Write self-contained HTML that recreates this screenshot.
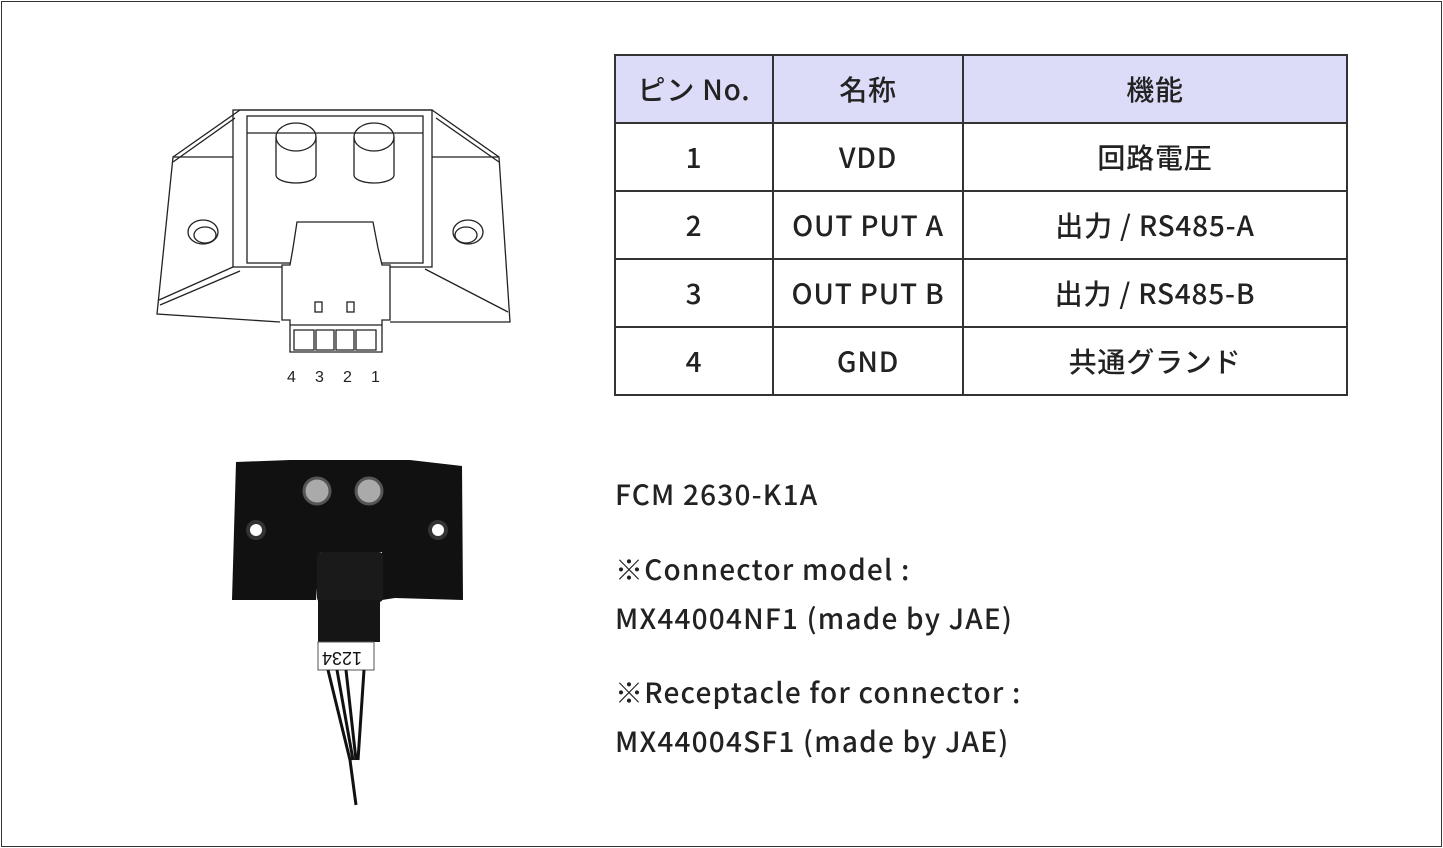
<!DOCTYPE html>
<html><head><meta charset="utf-8"><style>
body{margin:0;width:1443px;height:848px;background:#fff;font-family:"Liberation Sans","Noto Sans CJK JP",sans-serif;position:relative;overflow:hidden}
.frame{position:absolute;left:1px;top:1px;width:1439px;height:844px;border:1px solid #333}
table{position:absolute;left:614px;top:54px;border-collapse:collapse;font-family:"Noto Sans CJK JP",sans-serif;font-size:28px;font-weight:500;letter-spacing:0.8px;color:#222}
td{border:2px solid #333;text-align:center;height:66px;padding:0}
tr:first-child td{background:#dcdcf8}
.t{position:absolute;left:615px;font-family:"Noto Sans CJK JP",sans-serif;font-size:28px;font-weight:500;letter-spacing:1.2px;color:#222;white-space:nowrap}
</style></head><body>
<div class="frame"></div>
<svg width="1443" height="848" style="position:absolute;left:0;top:0" fill="none" stroke="#222" stroke-width="1.3">
<path d="M173,157 L240,110 L432,110 L499,157 L510,322 L390,322 M280,322 L157,314 L173,157 L233,157"/>
<path d="M173,162 L235,118 M499,162 L436,118 M432,157 L499,157 M159,300 L233,267 M508,312 L425,269 M160,305 L240,271"/>
<rect x="233" y="110" width="199" height="157"/>
<rect x="247" y="116" width="176" height="147"/>
<path d="M247,133 L423,133"/>
<path d="M276,137 v38 a20,8 0 0 0 40,0 v-38"/><ellipse cx="296" cy="137" rx="20" ry="14"/>
<path d="M354,137 v38 a20,8 0 0 0 40,0 v-38"/><ellipse cx="374" cy="137" rx="20" ry="14"/>
<ellipse cx="203" cy="232" rx="15" ry="12"/><ellipse cx="205" cy="235" rx="11" ry="8"/>
<ellipse cx="468" cy="232" rx="15" ry="12"/><ellipse cx="466" cy="235" rx="11" ry="8"/>
<path d="M297,222 L373,222 L378,248 L382,265 L390,265 L390,320 L382,320 L382,352 L290,352 L290,320 L282,320 L282,265 L290,265 L293,248 Z" fill="#fff"/>
<path d="M290,325 L382,325"/>
<rect x="315" y="302" width="7" height="10"/><rect x="347" y="302" width="7" height="10"/>
<path d="M294,330 h20 v20 h-20z M316,330 h18 v20 h-18z M336,330 h18 v20 h-18z M356,330 h20 v20 h-20z"/>
<g fill="#222" stroke="none" font-size="16" font-family="Liberation Sans"><text x="287" y="382">4</text><text x="315" y="382">3</text><text x="343" y="382">2</text><text x="371" y="382">1</text></g>
<path d="M236,462 L290,460 L410,460 L462,466 L463,600 L395,598 L382,600 L382,552 L320,552 L316,600 L232,600 Z" fill="#111" stroke="none"/>
<rect x="317" y="552" width="66" height="50" rx="4" fill="#1a1a1a" stroke="none"/>
<rect x="318" y="600" width="62" height="42" fill="#151515" stroke="none"/>
<rect x="318" y="642" width="56" height="28" fill="#fff" stroke="#555" stroke-width="1"/>
<text x="330" y="664" font-size="18" fill="#111" stroke="none" transform="rotate(180 346 658)">1234</text>
<circle cx="317" cy="491" r="13" fill="#aaa" stroke="#555" stroke-width="3"/>
<circle cx="369" cy="491" r="13" fill="#aaa" stroke="#555" stroke-width="3"/>
<circle cx="256" cy="530" r="8" fill="#fff" stroke="#333" stroke-width="4"/>
<circle cx="438" cy="530" r="8" fill="#fff" stroke="#333" stroke-width="4"/>
<path d="M328,670 L350,760 L356,805 M337,670 L353,760 M346,670 L356,760 M364,670 L358,760" stroke="#111" stroke-width="3"/>
</svg>
<table>
<tr><td style="width:156px">ピン No.</td><td style="width:188px">名称</td><td style="width:382px">機能</td></tr>
<tr><td>1</td><td>VDD</td><td>回路電圧</td></tr>
<tr><td>2</td><td>OUT PUT A</td><td>出力 / RS485-A</td></tr>
<tr><td>3</td><td>OUT PUT B</td><td>出力 / RS485-B</td></tr>
<tr><td>4</td><td>GND</td><td>共通グランド</td></tr>
</table>
<div class="t" style="top:474px">FCM 2630-K1A</div>
<div class="t" style="top:549px">※Connector model :</div>
<div class="t" style="top:598px">MX44004NF1 (made by JAE)</div>
<div class="t" style="top:672px">※Receptacle for connector :</div>
<div class="t" style="top:721px">MX44004SF1 (made by JAE)</div>
</body></html>
